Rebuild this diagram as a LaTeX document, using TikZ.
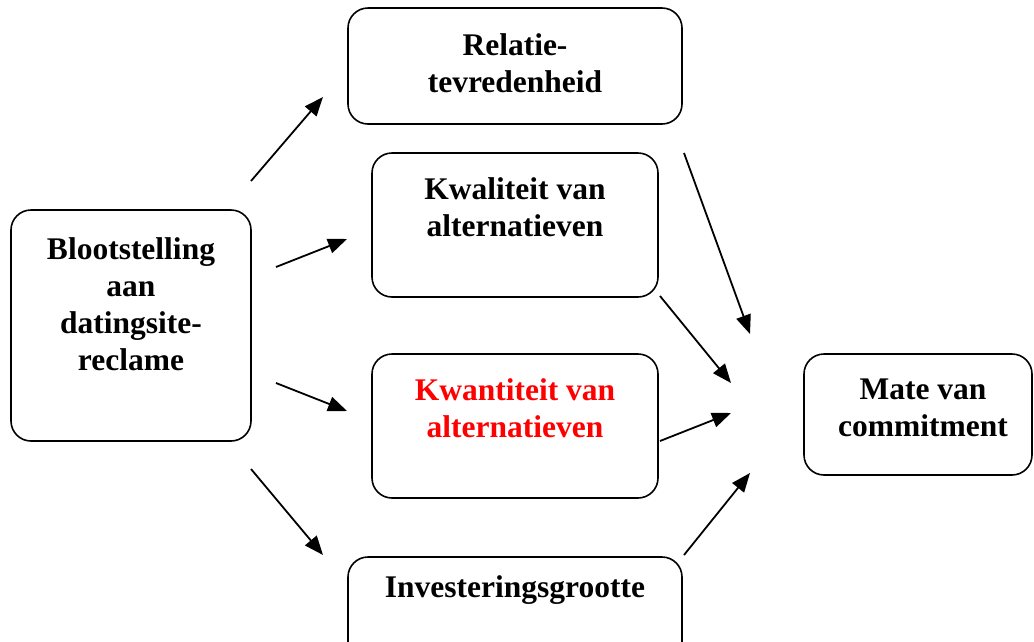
\documentclass[tikz,border=0pt]{standalone}
\usepackage{fontspec}
\setmainfont{Liberation Serif}
\usetikzlibrary{arrows.meta}
\begin{document}
\begin{tikzpicture}[x=1pt,y=-1pt,
  box/.style={draw=black,line width=1.6pt,rounded corners=20pt,fill=none,inner sep=0pt},
  lbl/.style={font=\fontsize{31.5}{37}\selectfont\bfseries,align=center,inner sep=0pt},
  arr/.style={line width=1.8pt,-{Triangle[length=19pt,width=15pt]}}]
\useasboundingbox (0,0) rectangle (1034,641);
\clip (0,0) rectangle (1034,641);
% boxes
\node[box,minimum width=334pt,minimum height=116pt] (rel) at (515,66) {};
\node[box,minimum width=286pt,minimum height=144pt] (kwal) at (515,225) {};
\node[box,minimum width=286pt,minimum height=144pt] (kwan) at (515,426) {};
\node[box,minimum width=334pt,minimum height=116pt] (inv) at (515,615) {};
\node[box,minimum width=240pt,minimum height=231pt] (bloot) at (131,325.5) {};
\node[box,minimum width=228pt,minimum height=121pt] (mate) at (918,414.5) {};
% labels
\node[lbl] (trel) at (515,63) {Relatie-\\tevredenheid};
\node[lbl] (tkwal) at (515,207) {Kwaliteit van\\alternatieven};
\node[lbl,text=red] (tkwan) at (515,408) {Kwantiteit van\\alternatieven};
\node[lbl] (tinv) at (515,590) {Investeringsgrootte};
\node[lbl] (tbloot) at (131,304) {Blootstelling\\aan\\datingsite-\\reclame};
\node[lbl] (tmate) at (923,408) {Mate van\\commitment};
% arrow end points
\coordinate (a1s) at (251,181); \coordinate (a1e) at (323,97);
\coordinate (a2s) at (276,267); \coordinate (a2e) at (347,239);
\coordinate (a3s) at (276,383); \coordinate (a3e) at (347,411);
\coordinate (a4s) at (251,469); \coordinate (a4e) at (323,555);
\coordinate (a5s) at (684,153); \coordinate (a5e) at (750,334);
\coordinate (a6s) at (660,296); \coordinate (a6e) at (731,383);
\coordinate (a7s) at (660,441); \coordinate (a7e) at (731,413);
\coordinate (a8s) at (684,555); \coordinate (a8e) at (750,473);
\foreach \i in {1,...,8} \draw[arr] (a\i s) -- (a\i e);
\end{tikzpicture}
\end{document}
